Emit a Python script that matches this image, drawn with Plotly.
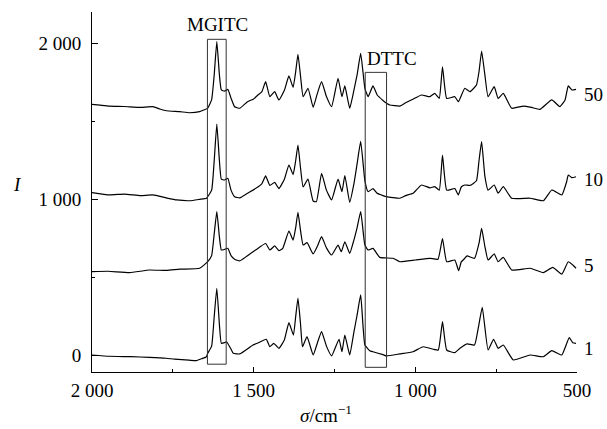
import plotly.graph_objects as go

# ---- data ----
wn_50 = [2000, 1975, 1946, 1900, 1850, 1812, 1790, 1770, 1729, 1698, 1667, 1642, 1630, 1622, 1614, 1606, 1600, 1590, 1580, 1570,
         1559, 1543, 1519, 1500, 1487, 1475, 1463, 1450, 1435, 1422, 1405, 1391, 1378, 1370, 1363, 1355, 1347, 1332, 1316, 1303,
         1290, 1275, 1259, 1239, 1227, 1218, 1203, 1190, 1180, 1169, 1156, 1146, 1131, 1118, 1100, 1089, 1079, 1048, 1030, 1007,
         981, 955, 940, 926, 916, 903, 878, 867, 847, 831, 811, 803, 795, 785, 775, 756, 744, 728, 702, 666,
         640, 615, 578, 553, 537, 527, 516, 503]
I_50 = [1610, 1605, 1599, 1596, 1590, 1595, 1580, 1569, 1563, 1556, 1563, 1586, 1640, 1800, 2012, 1800, 1702, 1695, 1706, 1650,
        1595, 1585, 1627, 1645, 1670, 1690, 1755, 1659, 1691, 1638, 1700, 1792, 1719, 1820, 1931, 1790, 1659, 1713, 1591, 1680,
        1755, 1660, 1595, 1777, 1659, 1728, 1585, 1700, 1800, 1937, 1713, 1659, 1728, 1670, 1635, 1617, 1606, 1599, 1620, 1643,
        1670, 1659, 1680, 1648, 1851, 1648, 1659, 1627, 1713, 1691, 1734, 1820, 1952, 1800, 1659, 1723, 1648, 1680, 1585, 1599,
        1590, 1578, 1638, 1595, 1638, 1728, 1702, 1706]

wn_10 = [2000, 1946, 1900, 1850, 1812, 1770, 1738, 1698, 1667, 1646, 1630, 1622, 1614, 1606, 1600, 1590, 1580, 1570, 1559, 1543,
         1519, 1487, 1475, 1463, 1450, 1435, 1422, 1405, 1391, 1378, 1370, 1363, 1355, 1347, 1332, 1316, 1306, 1290, 1275, 1259,
         1239, 1227, 1218, 1203, 1190, 1180, 1169, 1156, 1146, 1131, 1118, 1100, 1089, 1048, 1030, 1007, 981, 955, 940, 926,
         916, 903, 878, 867, 858, 847, 831, 811, 803, 795, 785, 775, 756, 744, 728, 702, 645, 604, 578, 547,
         532, 527, 516, 503]
I_10 = [1044, 1029, 1035, 1025, 1029, 1010, 997, 992, 1001, 1008, 1060, 1250, 1483, 1250, 1130, 1125, 1136, 1060, 1018, 1010,
        1040, 1080, 1100, 1151, 1090, 1110, 1070, 1130, 1221, 1160, 1250, 1349, 1200, 1080, 1130, 990, 986, 1168, 1060, 997,
        1131, 1050, 1153, 982, 1100, 1230, 1372, 1120, 1050, 1070, 1040, 1025, 1018, 1008, 1025, 1040, 1093, 1075, 1082, 1060,
        1285, 1060, 1070, 1029, 1080, 1093, 1090, 1120, 1250, 1371, 1150, 1060, 1093, 1040, 1082, 1008, 1008, 992, 1061, 1029,
        1114, 1157, 1140, 1146]

wn_5 = [2000, 1950, 1884, 1822, 1770, 1729, 1667, 1642, 1630, 1622, 1614, 1606, 1600, 1590, 1580, 1570, 1559, 1543, 1519, 1494,
        1463, 1450, 1435, 1422, 1410, 1391, 1378, 1370, 1363, 1355, 1347, 1335, 1316, 1303, 1290, 1275, 1259, 1239, 1229, 1218,
        1203, 1190, 1180, 1169, 1156, 1146, 1131, 1110, 1069, 1048, 1000, 955, 930, 916, 903, 878, 866, 858, 847, 840,
        817, 803, 795, 785, 775, 756, 744, 728, 702, 645, 604, 575, 547, 527, 513, 503]
I_5 = [537, 540, 531, 548, 545, 553, 559, 601, 640, 780, 922, 760, 676, 680, 687, 640, 617, 606, 640, 676,
       718, 676, 702, 672, 687, 798, 740, 820, 918, 800, 708, 723, 651, 700, 762, 690, 644, 708, 665, 729,
       655, 740, 820, 922, 708, 676, 687, 629, 623, 601, 612, 623, 617, 750, 601, 612, 544, 600, 623, 638,
       623, 720, 815, 700, 612, 651, 601, 629, 548, 559, 531, 565, 522, 601, 580, 559]

wn_1 = [2000, 1946, 1880, 1822, 1770, 1745, 1700, 1677, 1660, 1646, 1642, 1630, 1622, 1614, 1606, 1600, 1590, 1584, 1570, 1563,
        1543, 1502, 1487, 1461, 1450, 1438, 1422, 1405, 1391, 1377, 1370, 1363, 1355, 1349, 1335, 1316, 1303, 1290, 1275, 1259,
        1236, 1227, 1218, 1203, 1190, 1180, 1169, 1156, 1141, 1131, 1100, 1089, 1048, 1007, 976, 945, 929, 916, 903, 878,
        862, 840, 817, 805, 793, 775, 758, 744, 728, 697, 645, 604, 578, 547, 524, 513, 503]
I_1 = [3, -5, -8, -12, -18, -24, -30, -33, -20, -8, 14, 60, 250, 431, 200, 78, 82, 88, 40, 14,
       10, 67, 80, 104, 56, 78, 46, 100, 210, 131, 250, 367, 200, 56, 121, 3, 80, 153, 60, -3,
       104, 24, 131, 3, 150, 260, 388, 67, 31, 24, 5, -3, 10, 24, 56, 40, 35, 217, 35, 18,
       46, 74, 67, 180, 309, 35, 104, 46, 67, -29, 3, -8, 31, 3, 114, 82, 78]

series_wn = [wn_50, wn_10, wn_5, wn_1]
series_I = [I_50, I_10, I_5, I_1]
series_labels = ["50", "10", "5", "1"]
label_y = [1670, 1125, 580, 42]

x_tickvals = [2000, 1500, 1000, 500]
x_ticktext = ["2 000", "1 500", "1 000", "500"]
y_tickvals = [0, 1000, 2000]
y_ticktext = ["0", "1 000", "2 000"]

boxes = [("MGITC", 1643, 1585, -56, 2027, 1611, 2119),
         ("DTTC", 1155, 1089, -76, 1815, 1071, 1907)]

FONT = "Liberation Serif"
FS = 19

# plot area in pixels
L, R, T, B, W, H = 92, 30, 12, 57, 607, 429
PW, PH = W - L - R, H - T - B


def px_x(px):
    return (px - L) / PW


def px_y(py):
    return (H - B - py) / PH


fig = go.Figure()
for wn, I in zip(series_wn, series_I):
    fig.add_trace(go.Scatter(x=wn, y=I, mode="lines",
                             line=dict(color="black", width=1.2, shape="spline", smoothing=0.4),
                             showlegend=False, hoverinfo="skip"))

for lab, ly in zip(series_labels, label_y):
    fig.add_annotation(x=px_x(582), y=ly, xref="paper", yref="y", text=lab, showarrow=False,
                       xanchor="left", yanchor="middle", font=dict(family=FONT, size=FS, color="black"))

for name, x0, x1, y0, y1, tx, ty in boxes:
    fig.add_shape(type="rect", xref="x", yref="y", x0=x0, x1=x1, y0=y0, y1=y1,
                  line=dict(color="#333333", width=1))
    fig.add_annotation(x=tx, y=ty, xref="x", yref="y", text=name, showarrow=False,
                       xanchor="center", yanchor="middle", font=dict(family=FONT, size=FS, color="black"))

# axis titles
fig.add_annotation(x=px_x(326), y=px_y(414), xref="paper", yref="paper", text="<i>σ</i>/cm<sup>−1</sup>",
                   showarrow=False, font=dict(family=FONT, size=FS, color="black"),
                   xanchor="center", yanchor="middle")
fig.add_annotation(x=px_x(17), y=px_y(185), xref="paper", yref="paper",
                   text="<i>I</i>", showarrow=False, font=dict(family=FONT, size=FS, color="black"),
                   xanchor="center", yanchor="middle")

fig.update_layout(
    width=W, height=H,
    margin=dict(l=L, r=R, t=T, b=B),
    paper_bgcolor="white", plot_bgcolor="white",
    font=dict(family=FONT, size=FS, color="black"),
    xaxis=dict(range=[2000, 500], tickmode="array", tickvals=x_tickvals, ticktext=x_ticktext,
               ticks="inside", ticklen=5, tickcolor="black", tickwidth=1,
               minor=dict(tickvals=[1750, 1250, 750], ticks="inside", ticklen=3, tickcolor="black"),
               showline=True, linecolor="black", linewidth=1, showgrid=False, zeroline=False,
               ticklabelstandoff=1),
    yaxis=dict(range=[-106, 2202], tickmode="array", tickvals=y_tickvals, ticktext=y_ticktext,
               ticks="inside", ticklen=6, tickcolor="black", tickwidth=1,
               minor=dict(tickvals=[500, 1500], ticks="inside", ticklen=3, tickcolor="black"),
               showline=True, linecolor="black", linewidth=1, showgrid=False, zeroline=False,
               ticklabelstandoff=6),
)

fig.write_html("out.html")
